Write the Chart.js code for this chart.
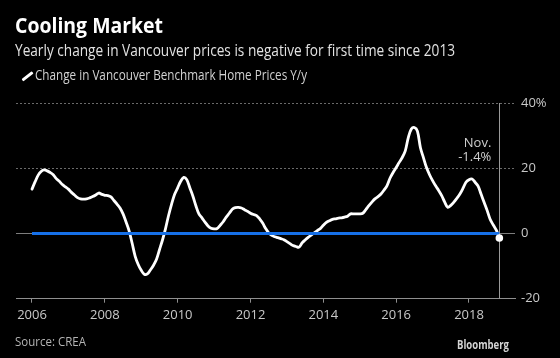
<!DOCTYPE html>
<html>
<head>
<meta charset="utf-8">
<script src="https://cdn.jsdelivr.net/npm/chart.js@4"></script>
<style>
html,body{margin:0;padding:0;background:#000;}
#wrap{position:relative;width:560px;height:358px;background:#000;overflow:hidden;font-family:"Liberation Sans Narrow","Open Sans","Liberation Sans",sans-serif;}
.t{position:absolute;white-space:nowrap;transform-origin:0 0;display:inline-block;}
#title{left:15px;top:15px;font-size:21px;line-height:21px;font-weight:bold;color:#fff;}
#subtitle{left:15px;top:41.5px;font-size:16px;line-height:16px;color:#e2e2e2;}
#legend{left:35px;top:68px;font-size:14px;line-height:14px;color:#d2d2d2;}
#legicon{position:absolute;left:20.5px;top:75px;width:12.5px;height:2.6px;background:#fff;transform:rotate(-38deg);border-radius:1px;}
#source{left:15px;top:335px;font-size:13px;line-height:13px;color:#b4b4b4;}
#brand{left:457px;top:338.5px;font-size:12px;line-height:12px;font-weight:bold;color:#d4d4d4;}
canvas{position:absolute;left:0;top:0;}
</style>
</head>
<body>
<div id="wrap">
  <canvas id="c" width="560" height="358"></canvas>
  <div class="t" id="title">Cooling Market</div>
  <div class="t" id="subtitle">Yearly change in Vancouver prices is negative for first time since 2013</div>
  <div id="legicon"></div>
  <div class="t" id="legend">Change in Vancouver Benchmark Home Prices Y/y</div>
  <div class="t" id="source">Source: CREA</div>
  <div class="t" id="brand">Bloomberg</div>
</div>
<script>
// ---- data (monthly, Jan 2006 .. Nov 2018), % change year over year ----
const startYear = 2006;
const seriesLabel = 'Change in Vancouver Benchmark Home Prices Y/y';
const changeYoY = [
  13.6, 15.8, 17.8, 19.0, 19.5, 19.2, 18.7, 18.0, 16.8, 16.0, 15.0, 14.3, // 2006
  13.6, 12.6, 11.8, 11.0, 10.6, 10.5, 10.6, 10.9, 11.3, 11.8, 12.4, 12.0, // 2007
  11.7, 11.6, 11.2, 10.1,  9.0,  7.8,  6.0,  3.5,  0.8, -3.0, -7.0, -9.5, // 2008
 -11.3,-12.5,-12.4,-11.2, -9.8, -8.0, -5.0, -2.0,  1.5,  5.5,  9.0, 12.0, // 2009
  14.0, 16.0, 17.2, 16.5, 14.0, 11.5,  8.5,  6.0,  4.8,  3.5,  2.3,  1.6, // 2010
   1.4,  1.5,  2.5,  3.6,  5.0,  6.2,  7.4,  7.9,  8.0,  7.8,  7.3,  6.8, // 2011
   6.2,  5.8,  5.5,  4.5,  3.2,  1.5,  0.2, -0.6, -1.0, -1.3, -1.6, -1.9, // 2012
  -2.5, -3.1, -3.7, -4.0, -4.2, -2.9, -2.0, -1.2, -0.5,  0.2,  0.9,  1.5, // 2013
   2.5,  3.4,  3.9,  4.3,  4.5,  4.7,  4.8,  5.0,  5.3,  6.0,  6.0,  6.0, // 2014
   6.0,  6.2,  7.3,  8.5,  9.6, 10.6, 11.3, 12.1, 13.3, 14.7, 17.0, 18.7, // 2015
  20.2, 21.8, 23.3, 25.3, 29.4, 32.0, 32.5, 31.4, 26.3, 23.2, 20.2, 18.0, // 2016
  16.2, 14.6, 13.2, 11.6,  9.6,  8.0,  8.6,  9.6, 10.8, 12.1, 13.8, 15.7, // 2017
  16.5, 16.7, 15.7, 14.5, 12.0,  9.5,  7.0,  4.3,  2.6,  1.0, -1.4        // 2018
];
const xTickStep = 2;           // years between x labels
const yTickValues = [-20, 0, 20, 40];
const noteLines = ['Nov.', '-1.4%'];
const noteAnchorValue = 26.4;  // y value where the note's first line sits

// ---- derived ----
const points = changeYoY.map((v, i) => ({ x: startYear + i / 12, y: v }));
const lastPoint = points[points.length - 1];
const zeroLine = [{ x: points[0].x, y: 0 }, { x: lastPoint.x, y: 0 }];

// layout helpers
const pxPerYear = (469 - 32) / 12;
const xMin = 2006 - (32 - 16) / pxPerYear;
const xMax = 2006 + (515 - 32) / pxPerYear;
const FONT = '"Liberation Sans Narrow","Open Sans","Liberation Sans",sans-serif';

const overlay = {
  id: 'overlay',
  beforeDatasetsDraw(chart) {
    const { ctx, chartArea, scales } = chart;
    const x = Math.round(scales.x.getPixelForValue(lastPoint.x)) + 0.5;
    ctx.save();
    ctx.strokeStyle = '#9a9a9a';
    ctx.lineWidth = 1;
    ctx.beginPath();
    ctx.moveTo(x, chartArea.top);
    ctx.lineTo(x, chartArea.bottom);
    ctx.stroke();
    ctx.restore();
  },
  afterDatasetsDraw(chart) {
    const { ctx, scales } = chart;
    const x = scales.x.getPixelForValue(lastPoint.x) - 8;
    const y = scales.y.getPixelForValue(noteAnchorValue);
    ctx.save();
    ctx.fillStyle = '#d0d0d0';
    ctx.font = '13px ' + FONT;
    ctx.textAlign = 'right';
    ctx.textBaseline = 'alphabetic';
    noteLines.forEach((s, i) => ctx.fillText(s, x, y + i * 13.3));
    ctx.restore();
  }
};

new Chart(document.getElementById('c').getContext('2d'), {
  type: 'line',
  data: {
    datasets: [
      { label: 'last', data: [lastPoint], showLine: false, pointRadius: 3.8,
        pointBackgroundColor: '#fff', pointBorderWidth: 0, order: -1 },
      { label: 'zero', data: zeroLine, borderColor: '#1670e8', borderWidth: 3,
        pointRadius: 0, order: 0 },
      { label: seriesLabel, data: points, borderColor: '#ffffff', borderWidth: 2.8,
        tension: 0.35, pointRadius: 0, borderCapStyle: 'round', borderJoinStyle: 'round', order: 1 }
    ]
  },
  options: {
    responsive: false,
    animation: false,
    devicePixelRatio: 1,
    layout: { padding: { left: 16, top: 103, right: 0, bottom: 29.3 } },
    plugins: { legend: { display: false }, tooltip: { enabled: false } },
    scales: {
      x: {
        type: 'linear', min: xMin, max: xMax,
        afterFit: s => { s.height = 30; },
        grid: { display: true, drawOnChartArea: false, drawTicks: true, tickLength: 4, color: '#8f8f8f', lineWidth: 1 },
        border: { display: true, color: '#8f8f8f', width: 1 },
        ticks: { stepSize: xTickStep, includeBounds: false, autoSkip: false, maxRotation: 0,
          color: '#c8c8c8', font: { family: FONT, size: 13 }, padding: 5,
          callback: v => String(v) }
      },
      y: {
        position: 'right', min: yTickValues[0], max: yTickValues[yTickValues.length - 1],
        afterFit: s => { s.width = 45; },
        afterBuildTicks: s => { s.ticks = yTickValues.map(v => ({ value: v })); },
        grid: {
          drawTicks: false, lineWidth: 1,
          color: c => (c.tick && c.tick.value === yTickValues[0]) ? 'rgba(0,0,0,0)' :
                      (c.tick && c.tick.value === 0 ? '#7d7d7d' : '#6a6a6a')
        },
        border: { display: false, dash: c => (c.tick && c.tick.value > 0) ? [2, 2] : [] },
        ticks: { padding: 6, color: '#c8c8c8', font: { family: FONT, size: 13 },
          callback: v => v === yTickValues[yTickValues.length - 1] ? v + '%' : String(v) }
      }
    }
  },
  plugins: [overlay]
});

// fit html texts to reference widths
function fit(id, w) {
  const el = document.getElementById(id);
  const r = el.getBoundingClientRect().width;
  if (r > 0) el.style.transform = 'scaleX(' + (w / r) + ')';
}
fit('title', 148);
fit('subtitle', 440);
fit('legend', 272);
fit('source', 71);
fit('brand', 52);
</script>
</body>
</html>
